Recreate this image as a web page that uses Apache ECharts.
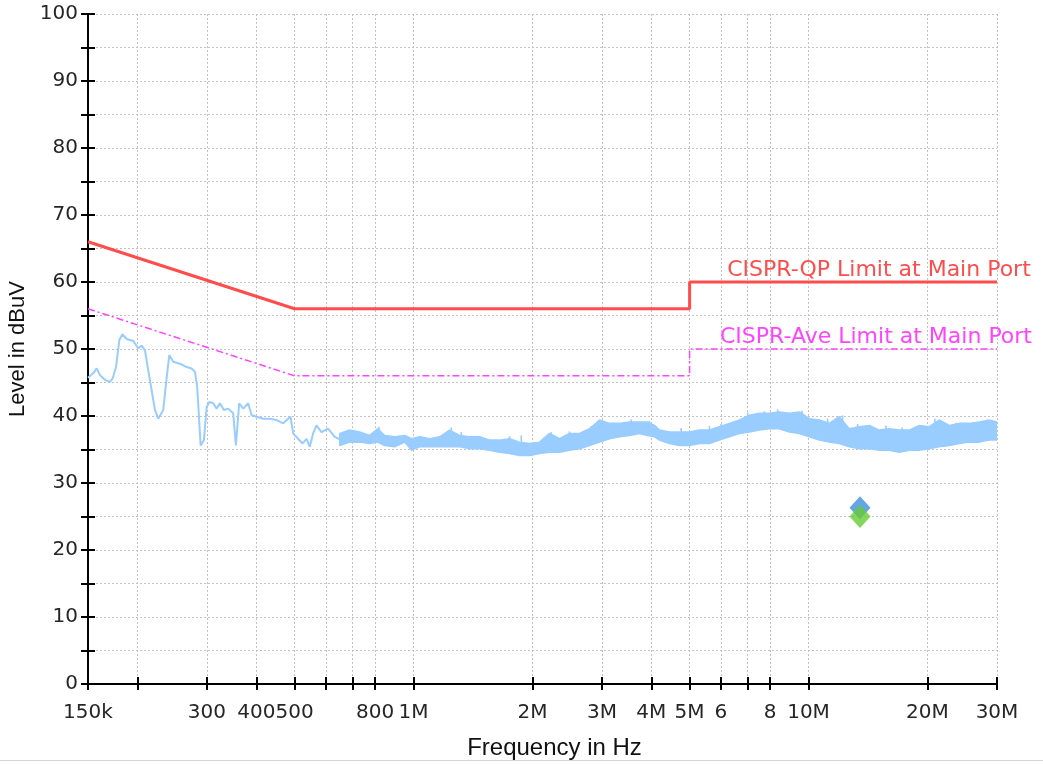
<!DOCTYPE html>
<html>
<head>
<meta charset="utf-8">
<script src="https://cdn.jsdelivr.net/npm/echarts@6/dist/echarts.min.js"></script>
<style>
  html, body { margin: 0; padding: 0; background: #ffffff; }
  #chart { width: 1043px; height: 764px; }
</style>
</head>
<body>
<div id="chart"></div>
<script>
// Frequency axis ticks / labels (Hz)
const tickFreqs = [150e3, 200e3, 300e3, 400e3, 500e3, 600e3, 700e3, 800e3, 1e6,
                   2e6, 3e6, 4e6, 5e6, 6e6, 7e6, 8e6, 10e6, 20e6, 30e6];
const labelFreqs = [150e3, 300e3, 400e3, 500e3, 800e3, 1e6, 2e6, 3e6, 4e6, 5e6,
                    6e6, 8e6, 10e6, 20e6, 30e6];
const labelTexts = ['150k', '300', '400', '500', '800', '1M', '2M', '3M', '4M', '5M',
                    '6', '8', '10M', '20M', '30M'];

// Peak scan, low band (kHz / dBuV)
const traceFreqK = [150, 154.7, 157.8, 160.8, 165.6, 170.5, 173.2, 176.6, 180.0, 183.2,
  187.9, 195.3, 201.1, 205.1, 209.1, 213.1, 217.4, 221.6, 225.9, 232.6,
  236.3, 240.9, 246.5, 256.4, 266.6, 274.4, 279.8, 283.5, 286.4, 289.2,
  294.8, 299.5, 304.1, 311.2, 317.5, 323.6, 331.2, 339.6, 349.7, 355.2,
  362.1, 370.6, 381.6, 389.2, 400.7, 416.4, 433.0, 450.2, 467.9, 481.7,
  488.5, 495.9, 510.5, 523.8, 536.1, 546.5, 557.1, 568.2, 585.0, 607.9,
  632.1, 650.8];
const traceLevel = [45.7, 46.4, 47.1, 46.1, 45.4, 45.1, 45.6, 47.3, 51.3, 52.2,
  51.5, 51.2, 50.1, 50.5, 49.8, 46.8, 43.8, 40.9, 39.6, 40.9,
  44.8, 49.1, 48.1, 47.8, 47.3, 47.1, 46.6, 44.3, 39.9, 35.6,
  36.4, 41.3, 42.1, 41.9, 41.1, 41.9, 40.9, 41.1, 40.4, 35.6,
  41.9, 41.1, 41.9, 40.1, 39.9, 39.6, 39.6, 39.4, 38.9, 39.6,
  39.9, 37.4, 36.6, 35.9, 36.6, 35.4, 37.4, 38.6, 37.6, 38.1,
  36.9, 36.5];

// Peak scan, dense part: lower / upper edge of the swept trace (kHz / dBuV)
const bandFreqK = [650.8, 689.8, 731.1, 774.9, 811.8, 845.7, 896.4, 950.1, 989.6, 1036.8,
  1098.9, 1164.8, 1234.5, 1308.5, 1386.9, 1470.6, 1558.8, 1652.2, 1751.3, 1856.4,
  1967.7, 2085.5, 2210.5, 2343.0, 2483.5, 2632.4, 2790.2, 2957.5, 3134.8, 3322.7,
  3522.0, 3733.2, 3911.0, 4074.9, 4195.2, 4446.8, 4713.3, 4995.9, 5295.3, 5612.7,
  5949.2, 6305.9, 6684.0, 7084.7, 7509.5, 7959.8, 8436.9, 8942.7, 9478.8, 10048,
  10651, 11289, 11966, 12683, 13444, 14250, 15105, 16010, 16970, 17988,
  19066, 20210, 21421, 22706, 24067, 25510, 27040, 28662, 30000];
const bandLow = [35.6, 36.1, 36.1, 35.9, 36.1, 35.6, 35.4, 36.1, 34.9, 35.4,
  35.4, 35.4, 35.4, 35.4, 35.1, 35.1, 34.9, 34.6, 34.4, 34.1,
  34.1, 34.4, 34.6, 34.6, 34.9, 35.1, 35.6, 36.1, 36.6, 36.9,
  37.1, 37.4, 37.1, 36.9, 36.4, 35.9, 35.6, 35.6, 35.9, 35.9,
  36.4, 36.9, 37.4, 37.6, 37.9, 38.1, 38.1, 37.6, 37.4, 36.9,
  36.4, 36.1, 35.9, 35.4, 35.1, 35.1, 34.9, 34.9, 34.6, 34.9,
  34.9, 35.1, 35.4, 35.6, 35.9, 36.1, 36.1, 36.4, 36.4];
const bandHigh = [37.4, 37.9, 37.6, 37.1, 38.1, 37.1, 36.9, 37.1, 36.6, 36.9,
  36.6, 36.9, 37.9, 37.1, 36.9, 36.9, 36.4, 36.4, 36.6, 36.1,
  35.9, 36.1, 37.4, 36.6, 37.4, 37.4, 38.1, 39.4, 38.9, 38.9,
  39.1, 39.1, 39.1, 38.6, 37.9, 37.6, 37.6, 37.6, 37.9, 37.9,
  38.4, 38.9, 39.4, 40.1, 40.4, 40.4, 40.6, 40.4, 40.6, 39.6,
  39.4, 38.9, 39.9, 38.1, 38.4, 38.6, 37.9, 38.1, 37.9, 37.9,
  38.6, 38.4, 39.4, 38.6, 38.9, 38.9, 39.1, 39.4, 39.1];

// Isolated peaks poking above the dense sweep (kHz / dBuV)
const spikeFreqK = [818, 1246.8, 1321.5, 1751, 1875, 2233, 2483, 2818, 3558, 3957,
  4761, 5613, 6009, 7015, 7731, 8353, 9629, 11178, 12198, 13311,
  15707, 17238, 20891, 23612, 28376];
const spikeLevel = [38.4, 38.3, 37.6, 37.0, 37.1, 37.6, 37.7, 38.5, 39.5, 39.3,
  38.2, 38.5, 38.8, 40.5, 40.7, 41.0, 40.8, 39.6, 40.1, 38.8,
  38.6, 38.3, 39.6, 39.0, 39.4];

// CISPR limits at the mains port (Hz / dBuV)
const qpFreq = [150e3, 500e3, 5e6, 5e6, 30e6];
const qpLimit = [66, 56, 56, 60, 60];
const avFreq = [150e3, 500e3, 5e6, 5e6, 30e6];
const avLimit = [56, 46, 46, 50, 50];

// Final measurement (Hz / dBuV)
const finalFreq = [13.5e6];
const finalQP = [26.3];
const finalAV = [25.0];

const pairs = (xs, ys) => xs.map((x, i) => [x, ys[i]]);
const tickFont = { fontFamily: 'DejaVu Sans', fontSize: 20, color: '#262626' };
const gridLine = { show: true, lineStyle: { color: '#c2c2c2', width: 1, type: [2, 2] } };
const traceBlue = '#99ccff';

function freqLabel(v) {
  let best = 0, bestErr = Infinity;
  labelFreqs.forEach((f, i) => {
    const e = Math.abs(Math.log(v / f));
    if (e < bestErr) { bestErr = e; best = i; }
  });
  return bestErr < 0.01 ? labelTexts[best] : '';
}

// Filled envelope of the dense sweep, mapped through the chart's own axes
function renderPeakBand(params, api) {
  if (params.dataIndex !== 0) return null;
  const upper = bandFreqK.map((f, i) => api.coord([f * 1000, bandHigh[i]]));
  const lower = bandFreqK.map((f, i) => api.coord([f * 1000, bandLow[i]])).reverse();
  return {
    type: 'polygon',
    shape: { points: upper.concat(lower) },
    style: { fill: traceBlue, stroke: traceBlue, lineWidth: 1.5, lineJoin: 'round' }
  };
}

// A single peak: short vertical stroke from its level down into the band
function renderSpike(params, api) {
  const top = api.coord([api.value(0), api.value(1)]);
  const base = api.coord([api.value(0), api.value(1) - 1.6]);
  return {
    type: 'line',
    shape: { x1: top[0], y1: top[1], x2: base[0], y2: base[1] },
    style: { stroke: traceBlue, lineWidth: 1.6 }
  };
}

const freqAxisBase = { type: 'log', logBase: 10, min: 150e3, max: 30e6, position: 'bottom' };
const levelAxisBase = { type: 'value', min: 0, max: 100, interval: 5, position: 'left' };

const chart = echarts.init(document.getElementById('chart'), null, { renderer: 'canvas' });
chart.setOption({
  animation: false,
  backgroundColor: '#ffffff',
  grid: { left: 88, right: 46, top: 14, bottom: 80, containLabel: false, outerBoundsMode: 'none' },
  xAxis: [
    Object.assign({}, freqAxisBase, {
      name: 'Frequency in Hz',
      nameLocation: 'middle',
      nameGap: 52,
      nameTextStyle: { fontFamily: 'Liberation Sans', fontSize: 24, color: '#111', padding: [0, 0, 0, 24] },
      axisLine: { show: true, lineStyle: { color: '#000', width: 2 } },
      axisTick: { show: true, inside: false, length: 6, customValues: tickFreqs,
                  lineStyle: { color: '#000', width: 2 } },
      axisLabel: Object.assign({ margin: 19, customValues: labelFreqs, formatter: freqLabel }, tickFont),
      splitLine: gridLine,
      minorTick: { show: false },
      minorSplitLine: { show: false }
    }),
    Object.assign({}, freqAxisBase, {
      axisLine: { show: false },
      axisTick: { show: true, inside: true, length: 7, customValues: tickFreqs,
                  lineStyle: { color: '#000', width: 2 } },
      axisLabel: { show: false },
      splitLine: { show: false }
    })
  ],
  yAxis: [
    Object.assign({}, levelAxisBase, {
      name: 'Level in dBuV',
      nameLocation: 'middle',
      nameGap: 57,
      nameTextStyle: { fontFamily: 'Liberation Sans', fontSize: 22, color: '#111' },
      axisLine: { show: true, lineStyle: { color: '#000', width: 2 } },
      axisTick: { show: true, inside: false, length: 7, lineStyle: { color: '#000', width: 2 } },
      axisLabel: Object.assign({ margin: 10, formatter: v => (v % 10 === 0 ? String(v) : '') }, tickFont),
      splitLine: gridLine
    }),
    Object.assign({}, levelAxisBase, {
      axisLine: { show: false },
      axisTick: { show: true, inside: true, length: 7, lineStyle: { color: '#000', width: 2 } },
      axisLabel: { show: false },
      splitLine: { show: false }
    })
  ],
  series: [
    {
      name: 'Peak', type: 'line', xAxisIndex: 0, yAxisIndex: 0,
      data: pairs(traceFreqK.map(f => f * 1000), traceLevel),
      showSymbol: false, symbol: 'none',
      lineStyle: { color: traceBlue, width: 2 }, z: 2
    },
    {
      name: 'Peak (dense)', type: 'custom', xAxisIndex: 0, yAxisIndex: 0,
      renderItem: renderPeakBand,
      data: [[bandFreqK[0] * 1000, bandLow[0]]],
      encode: { x: 0, y: 1 },
      clip: true, z: 2
    },
    {
      name: 'Peak (spikes)', type: 'custom', xAxisIndex: 0, yAxisIndex: 0,
      renderItem: renderSpike,
      data: pairs(spikeFreqK.map(f => f * 1000), spikeLevel),
      encode: { x: 0, y: 1 },
      clip: true, z: 2
    },
    {
      name: 'CISPR-QP Limit at Main Port', type: 'line',
      data: pairs(qpFreq, qpLimit),
      showSymbol: false, symbol: 'none',
      lineStyle: { color: '#ff4d4d', width: 3 }, z: 3
    },
    {
      name: 'CISPR-Ave Limit at Main Port', type: 'line',
      data: pairs(avFreq, avLimit),
      showSymbol: false, symbol: 'none',
      lineStyle: { color: '#ff44ff', width: 1.5, type: [7, 3, 2, 3] }, z: 3
    },
    {
      name: 'Final QP', type: 'scatter',
      data: pairs(finalFreq, finalQP),
      symbol: 'diamond', symbolSize: [21, 23],
      itemStyle: { color: '#3f8fdc' }, z: 4
    },
    {
      name: 'Final AV', type: 'scatter',
      data: pairs(finalFreq, finalAV),
      symbol: 'diamond', symbolSize: [21, 23],
      itemStyle: { color: '#66cc33' }, z: 5
    }
  ],
  graphic: [
    {
      type: 'text', x: 879, y: 270, z: 10,
      style: { text: 'CISPR-QP Limit at Main Port', fill: '#ff4d4d',
               font: '22px "DejaVu Sans"', align: 'center', verticalAlign: 'middle',
               textAlign: 'center', textVerticalAlign: 'middle' }
    },
    {
      type: 'text', x: 876, y: 337, z: 10,
      style: { text: 'CISPR-Ave Limit at Main Port', fill: '#ff44ff',
               font: '22px "DejaVu Sans"', align: 'center', verticalAlign: 'middle',
               textAlign: 'center', textVerticalAlign: 'middle' }
    },
    {
      type: 'line', z: 10,
      shape: { x1: 0, y1: 760.5, x2: 1043, y2: 760.5 },
      style: { stroke: '#d4d4d4', lineWidth: 1 }
    }
  ]
});
</script>
</body>
</html>
